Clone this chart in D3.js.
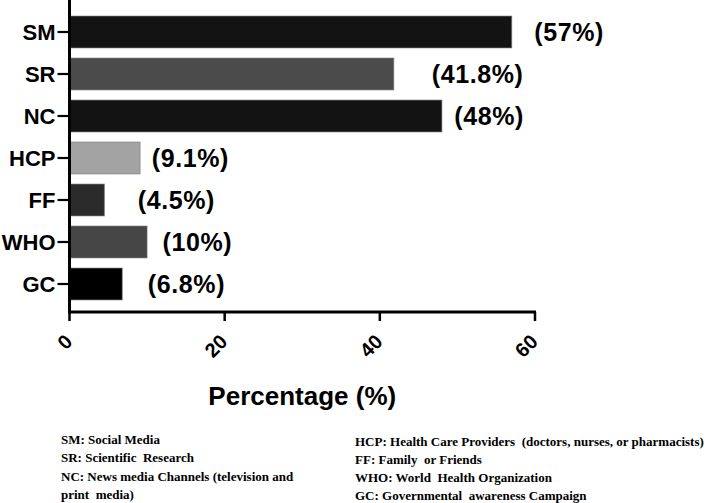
<!DOCTYPE html>
<html>
<head>
<meta charset="utf-8">
<script src="https://cdn.jsdelivr.net/npm/d3@7"></script>
<style>
  body { margin: 0; background: #fff; }
  text { font-family: "Liberation Sans", Arial, sans-serif; font-weight: bold; fill: #000; }
  .legend text { font-family: "Liberation Serif", "Times New Roman", serif; font-size: 13px; white-space: pre; }
</style>
</head>
<body>
<div class="chart"></div>
<script>
// datos
var sources = ["SM", "SR", "NC", "HCP", "FF", "WHO", "GC"];
var percents = [57, 41.8, 48, 9.1, 4.5, 10, 6.8];
var pctLabels = ["(57%)", "(41.8%)", "(48%)", "(9.1%)", "(4.5%)", "(10%)", "(6.8%)"];
var labelAt = [59.9, 46.7, 49.6, 10.6, 8.8, 12.0, 10.1]; // donde empieza cada etiqueta (en %)
var barColors = ["#131313", "#4b4b4b", "#131313", "#a3a3a3", "#2b2b2b", "#464646", "#000000"];
var xTicks = [0, 20, 40, 60];
var legendLeft = ["SM: Social Media", "SR: Scientific  Research", "NC: News media Channels (television and", "print  media)"];
var legendRight = ["HCP: Health Care Providers  (doctors, nurses, or pharmacists)", "FF: Family  or Friends", "WHO: World  Health Organization", "GC: Governmental  awareness Campaign"];

var width = 714, height = 503;

var svg = d3.select("div.chart")
    .append("svg")
    .attr("width", width)
    .attr("height", height);

svg.append("rect").attr("width", width).attr("height", height).attr("fill", "#fff");

var x = d3.scaleLinear()
    .domain([0, 60])
    .range([69.5, 535]);

var y = d3.scaleBand()
    .domain(sources)
    .range([11, 305])
    .paddingInner(0.24)
    .paddingOuter(0.12);

var axisY = 312;

// barras
svg.selectAll("rect.bar")
    .data(sources)
    .enter()
    .append("rect")
    .attr("class", "bar")
    .attr("x", x(0) + 1)
    .attr("y", (d) => y(d))
    .attr("width", (d, i) => x(percents[i]) - x(0) - 1)
    .attr("height", y.bandwidth())
    .attr("fill", (d, i) => barColors[i])
    .attr("stroke", "rgba(120,120,120,0.6)")
    .attr("stroke-width", 1);

// etiquetas de porcentaje
svg.selectAll("text.pct")
    .data(sources)
    .enter()
    .append("text")
    .attr("class", "pct")
    .attr("x", (d, i) => x(labelAt[i]))
    .attr("y", (d) => y(d) + y.bandwidth() / 2)
    .attr("dy", "0.36em")
    .style("font-size", "25px")
    .style("letter-spacing", "0.6px")
    .text((d, i) => pctLabels[i]);

// eje y
svg.append("line")
    .attr("x1", x(0)).attr("x2", x(0))
    .attr("y1", 0).attr("y2", axisY + 1)
    .attr("stroke", "#000").attr("stroke-width", 3);

var yTick = svg.selectAll("g.ytick")
    .data(sources)
    .enter()
    .append("g")
    .attr("class", "ytick")
    .attr("transform", (d) => "translate(0," + (y(d) + y.bandwidth() / 2) + ")");

yTick.append("line")
    .attr("x1", x(0) - 12).attr("x2", x(0))
    .attr("stroke", "#000").attr("stroke-width", 2.2);

yTick.append("text")
    .attr("x", x(0) - 14)
    .attr("dy", "0.36em")
    .attr("text-anchor", "end")
    .style("font-size", "22px")
    .text((d) => d);

// eje x
svg.append("line")
    .attr("x1", x(0) - 1.5).attr("x2", x(60) + 1)
    .attr("y1", axisY).attr("y2", axisY)
    .attr("stroke", "#000").attr("stroke-width", 3);

var xTick = svg.selectAll("g.xtick")
    .data(xTicks)
    .enter()
    .append("g")
    .attr("class", "xtick")
    .attr("transform", (d) => "translate(" + x(d) + ",0)");

xTick.append("line")
    .attr("y1", axisY).attr("y2", axisY + 9)
    .attr("stroke", "#000").attr("stroke-width", 2.5);

xTick.append("text")
    .attr("text-anchor", "end")
    .attr("transform", "translate(4," + (axisY + 31) + ") rotate(-45)")
    .style("font-size", "20px")
    .text((d) => d);

svg.append("text")
    .attr("x", (x(0) + x(60)) / 2)
    .attr("y", 405)
    .attr("text-anchor", "middle")
    .style("font-size", "26px")
    .text("Percentage (%)");

// leyenda de abreviaturas
var legend = svg.append("g").attr("class", "legend");

legend.selectAll("text.left")
    .data(legendLeft)
    .enter()
    .append("text")
    .attr("class", "left")
    .attr("x", 61)
    .attr("y", (d, i) => 444 + i * 18.3)
    .text((d) => d);

legend.selectAll("text.right")
    .data(legendRight)
    .enter()
    .append("text")
    .attr("class", "right")
    .attr("x", 355)
    .attr("y", (d, i) => 446 + i * 18)
    .text((d) => d);
</script>
</body>
</html>
